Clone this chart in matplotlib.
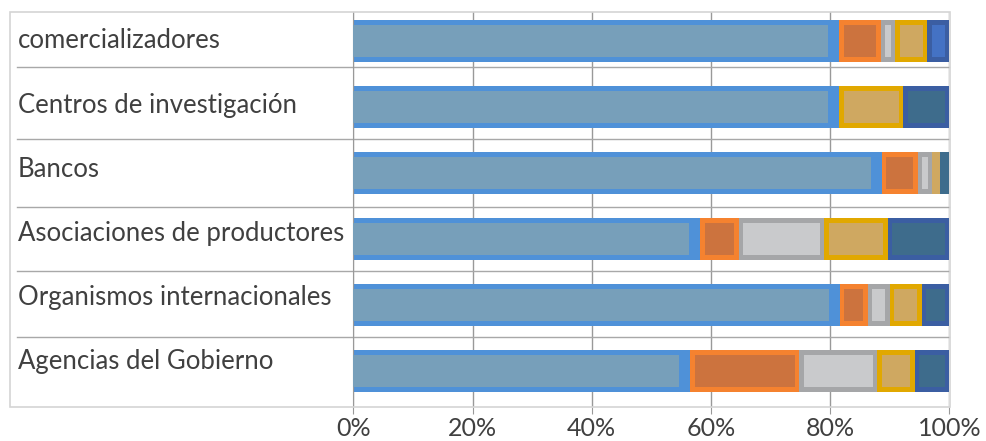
import matplotlib
matplotlib.use("Agg")
import matplotlib.pyplot as plt
from matplotlib.patches import Rectangle
import numpy as np

categories = ["comercializadores", "Centros de investigación", "Bancos",
              "Asociaciones de productores", "Organismos internacionales",
              "Agencias del Gobierno"]
s1 = [81.5, 81.5, 88.7, 58.2, 81.6, 56.5]
s2 = [7.0, 0.0, 6.0, 6.5, 4.7, 18.3]
s3 = [2.4, 0.0, 2.4, 14.3, 3.7, 13.1]
s4 = [5.4, 10.8, 1.3, 10.7, 5.4, 6.3]
s5 = [3.7, 7.7, 1.6, 10.3, 4.6, 5.8]
series = [s1, s2, s3, s4, s5]
tick_vals = [0, 20, 40, 60, 80, 100]
tick_labels = ["0%", "20%", "40%", "60%", "80%", "100%"]

outer_cols = ["#4f91d8", "#f5822f", "#a5a6a8", "#e1a800", "#3b5ea2"]
inner_cols = ["#779fba", "#cc733e", "#c9cacc", "#cfa861", "#3e6c8c"]

plt.rcParams['font.family'] = ['Lato', 'DejaVu Sans']

W, H = 986, 441
fig = plt.figure(figsize=(W / 100, H / 100), dpi=100)
x0, x1 = 353.3, 949.3
ytop, ybot = 12, 407
ax = fig.add_axes([x0 / W, 1 - ybot / H, (x1 - x0) / W, (ybot - ytop) / H])

# outer frame
fig.patches.append(Rectangle((10 / W, 1 - ybot / H), (950 - 10) / W, (ybot - ytop) / H,
                             transform=fig.transFigure, fill=False,
                             edgecolor="#d4d4d4", linewidth=1.2, zorder=0))

n = len(categories)
ypos = np.arange(n)
bh = 0.636
px_x = 100 / (x1 - x0)   # data units per pixel (x)
px_y = 1 / 66.0          # data units per pixel (y)
ins = 4.5

left = np.zeros(n)
for j, vals in enumerate(series):
    vals = np.array(vals, dtype=float)
    for i in range(n):
        w = vals[i]
        if w <= 0:
            continue
        if w < 2.0:
            ax.barh(ypos[i], w, left=left[i], height=bh, color=inner_cols[j],
                    linewidth=0, zorder=2)
            continue
        ax.barh(ypos[i], w, left=left[i], height=bh, color=outer_cols[j],
                linewidth=0, zorder=2)
        if j == 0:
            li, ri = 0.0, 11 * px_x
        else:
            li, ri = ins * px_x, ins * px_x
        inner = inner_cols[j]
        if j == len(series) - 1 and i == 0:
            inner = "#4472c4"
        ax.barh(ypos[i], w - li - ri, left=left[i] + li,
                height=bh - 2 * 5 * px_y, color=inner,
                linewidth=0, zorder=3)
    left += vals

ax.set_xlim(0, 100)
ax.set_ylim(n - 1 + 36 / 66, -29 / 66)
ax.set_xticks(tick_vals)
ax.set_xticklabels(tick_labels, fontsize=18, color="#404040")
ax.set_yticks([])
ax.grid(axis="x", color="#999999", linewidth=1)
ax.set_axisbelow(True)
ax.tick_params(axis="x", length=5, color="#999999", pad=2)
for sp in ["top", "right", "bottom"]:
    ax.spines[sp].set_visible(False)
ax.spines["left"].set_color("#999999")

# row separators
xmin = (17 - x0) / (x1 - x0)
seps = [0.4, 1.48, 2.52, 3.48, 4.48]
for b in seps:
    ax.axhline(b, xmin=xmin, xmax=1.0, color="#a8a8a8", linewidth=1,
               clip_on=False, zorder=1)

for i, c in enumerate(categories):
    ax.text((18 - x0) * px_x, ypos[i] - 0.03 * i, c, ha="left", va="center",
            fontsize=18.5, color="#404040", clip_on=False)

fig.savefig("out.png", dpi=100)
